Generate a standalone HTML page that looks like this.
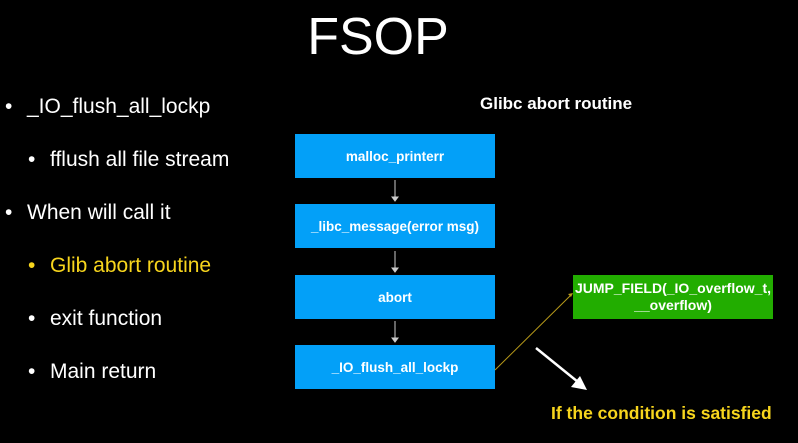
<!DOCTYPE html>
<html><head><style>
body{margin:0;width:798px;height:443px;background:#000;position:relative;overflow:hidden;font-family:"Liberation Sans",sans-serif;color:#fff}
.a{position:absolute;white-space:nowrap}
.b{position:absolute;left:295px;width:200px;height:44px;background:#03a0f8;display:flex;align-items:center;justify-content:center;font-size:13.5px;font-weight:bold;color:#fff}
.li{position:absolute;font-size:21px;white-space:nowrap}
.li:before{content:"•";position:absolute;left:-22px}
</style></head><body>
<div class="a" style="left:0;width:756px;text-align:center;top:7px;font-size:52px">FSOP</div>
<div class="a" style="left:480px;top:94px;font-size:17px;font-weight:bold">Glibc abort routine</div>
<div class="li" style="left:27px;top:95px">_IO_flush_all_lockp</div>
<div class="li" style="left:50px;top:148px">fflush all file stream</div>
<div class="li" style="left:27px;top:201px">When will call it</div>
<div class="li" style="left:50px;top:254px;color:#f7d51d">Glib abort routine</div>
<div class="li" style="left:50px;top:307px">exit function</div>
<div class="li" style="left:50px;top:360px">Main return</div>
<div class="b" style="top:134px">malloc_printerr</div>
<div class="b" style="top:204px">_libc_message(error msg)</div>
<div class="b" style="top:275px">abort</div>
<div class="b" style="top:345px">_IO_flush_all_lockp</div>
<div class="a" style="left:573px;top:275px;width:200px;height:44px;background:#22ad00;display:flex;align-items:center;justify-content:center;text-align:center;font-size:14px;font-weight:bold;line-height:17px">JUMP_FIELD(_IO_overflow_t,<br>__overflow)</div>
<div class="a" style="left:551px;top:403px;font-size:17.5px;font-weight:bold;color:#f7d51d">If the condition is satisfied</div>
<svg width="798" height="443" style="position:absolute;left:0;top:0">
<g stroke="#ccc" stroke-width="1" fill="#ccc">
<line x1="395" y1="180" x2="395" y2="198"/><path d="M392 197l3 4 3-4z"/>
<line x1="395" y1="251" x2="395" y2="269"/><path d="M392 268l3 4 3-4z"/>
<line x1="395" y1="321" x2="395" y2="339"/><path d="M392 338l3 4 3-4z"/>
</g>
<line x1="495" y1="370" x2="572" y2="294" stroke="#b89a1a" stroke-width="1"/>
<path d="M573 293l-5 1 3 3z" fill="#b89a1a"/>
<line x1="536" y1="348" x2="578" y2="382" stroke="#fff" stroke-width="2.5"/>
<path d="M587 390l-16-3 9-11z" fill="#fff"/>
</svg>
</body></html>
